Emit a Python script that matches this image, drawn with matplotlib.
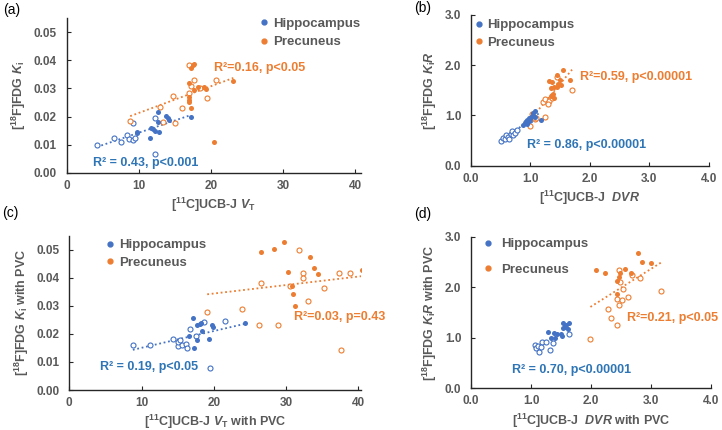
import numpy as np
import matplotlib
matplotlib.use("Agg")
import matplotlib.pyplot as plt
from matplotlib.lines import Line2D

plt.rcParams['font.family'] = ['Liberation Sans', 'DejaVu Sans']
plt.rcParams['mathtext.fontset'] = 'custom'
plt.rcParams['mathtext.rm'] = 'Liberation Sans:bold'
plt.rcParams['mathtext.bf'] = 'Liberation Sans:bold'
plt.rcParams['mathtext.it'] = 'Liberation Sans:bold:italic'

AZUL = '#4472C4'
NARANJA = '#ED7D31'
AZUL_TXT = '#2E75B6'
GRIS = '#595959'

# (a) UCB-J VT vs FDG Ki
a_hip_fx = [9.7, 9.8, 11.6, 11.7, 11.9, 12.2, 12.8, 12.6, 12.7, 13.75, 14.0, 14.2, 17.2]
a_hip_fy = [0.0142, 0.0145, 0.0125, 0.0160, 0.0156, 0.0148, 0.0146, 0.0182, 0.0217, 0.0203, 0.0194, 0.0188, 0.0198]
a_hip_ox = [4.2, 6.5, 7.5, 8.3, 8.6, 9.2, 9.4, 9.25, 12.2, 12.3]
a_hip_oy = [0.0099, 0.0122, 0.0108, 0.0134, 0.0120, 0.0117, 0.0122, 0.0176, 0.0194, 0.0065]
a_pre_fx = [17.0, 17.0, 17.0, 17.0, 17.3, 17.3, 17.5, 17.7, 17.7, 18.2, 19.1, 19.3, 20.4, 23.1]
a_pre_fy = [0.0319, 0.0268, 0.0259, 0.0253, 0.0229, 0.0374, 0.0382, 0.0386, 0.0295, 0.0306, 0.0304, 0.0297, 0.0110, 0.0328]
a_pre_ox = [8.8, 12.9, 13.3, 14.7, 15.0, 16.0, 16.9, 17.0, 17.2, 17.7, 18.5, 19.5, 20.7]
a_pre_oy = [0.0184, 0.0233, 0.0181, 0.0274, 0.0176, 0.0229, 0.0283, 0.0382, 0.0309, 0.0329, 0.0300, 0.0266, 0.0330]

# (b) UCB-J DVR vs FDG KiR
b_hip_fx = [0.87, 0.90, 0.92, 0.95, 0.97, 0.98, 1.00, 1.02, 1.05, 1.07, 1.08, 1.17, 0.94]
b_hip_fy = [0.81, 0.84, 0.85, 0.91, 0.88, 0.95, 0.93, 0.98, 1.04, 1.08, 0.96, 0.91, 0.83]
b_hip_ox = [0.50, 0.54, 0.57, 0.59, 0.63, 0.64, 0.67, 0.69, 0.71, 0.74, 0.78, 0.93, 0.99]
b_hip_oy = [0.49, 0.56, 0.53, 0.61, 0.58, 0.53, 0.64, 0.69, 0.61, 0.66, 0.72, 0.86, 0.90]
b_pre_fx = [1.32, 1.34, 1.35, 1.36, 1.38, 1.39, 1.44, 1.45, 1.46, 1.50, 1.52, 1.55, 1.67, 1.40]
b_pre_fy = [1.69, 1.38, 1.55, 1.67, 1.42, 1.57, 1.56, 1.81, 1.63, 1.70, 1.60, 1.90, 1.71, 1.35]
b_pre_ox = [1.00, 1.02, 1.07, 1.10, 1.21, 1.24, 1.25, 1.31, 1.36, 1.30, 1.70, 1.45]
b_pre_oy = [0.78, 1.02, 0.92, 0.95, 1.27, 1.33, 0.96, 1.28, 1.35, 1.22, 1.51, 1.76]

# (c) con PVC
c_hip_fx = [17.1, 17.7, 18.1, 18.3, 18.4, 16.6, 17.7, 17.3, 19.4, 19.7, 19.9, 24.4]
c_hip_fy = [0.0257, 0.0230, 0.0236, 0.0240, 0.0209, 0.0191, 0.0179, 0.0150, 0.0181, 0.0230, 0.0224, 0.0239]
c_hip_ox = [8.8, 11.2, 14.4, 15.0, 15.1, 15.3, 15.6, 16.2, 16.3, 16.7, 17.6, 18.6, 21.6, 19.5]
c_hip_oy = [0.0160, 0.0161, 0.0181, 0.0157, 0.0170, 0.0178, 0.0160, 0.0163, 0.0151, 0.0219, 0.0192, 0.0241, 0.0245, 0.0079]
c_pre_fx = [26.5, 28.4, 29.7, 30.3, 30.9, 31.0, 31.2, 33.3, 33.9, 34.5, 40.5]
c_pre_fy = [0.0490, 0.0504, 0.0527, 0.0419, 0.0370, 0.0341, 0.0299, 0.0475, 0.0435, 0.0412, 0.0426]
c_pre_ox = [19.1, 23.95, 26.6, 26.3, 28.9, 30.6, 31.8, 32.3, 32.3, 33.1, 35.3, 37.4, 38.9, 37.6]
c_pre_oy = [0.0278, 0.0290, 0.0381, 0.0233, 0.0230, 0.0370, 0.0499, 0.0417, 0.0400, 0.0317, 0.0363, 0.0418, 0.0417, 0.0141]

# (d) con PVC
d_hip_fx = [1.28, 1.33, 1.38, 1.40, 1.44, 1.51, 1.53, 1.53, 1.58, 1.64, 1.62, 1.57, 1.50]
d_hip_fy = [1.11, 0.99, 1.09, 1.00, 1.07, 1.04, 1.19, 1.29, 1.25, 1.29, 1.17, 1.21, 1.08]
d_hip_ox = [1.06, 1.08, 1.12, 1.14, 1.19, 1.25, 1.31, 1.36, 1.17, 1.64]
d_hip_oy = [0.86, 0.79, 0.84, 0.71, 0.91, 0.92, 0.76, 0.90, 0.82, 1.07]
d_pre_fx = [2.08, 2.24, 2.43, 2.46, 2.49, 2.56, 2.67, 2.79, 2.85, 3.00, 2.43]
d_pre_fy = [2.35, 2.29, 2.12, 2.20, 2.29, 2.36, 2.29, 2.68, 2.49, 2.47, 1.87]
d_pre_ox = [1.99, 2.29, 2.34, 2.43, 2.43, 2.47, 2.51, 2.54, 2.61, 2.46, 2.49, 2.69, 2.82, 3.17]
d_pre_oy = [0.97, 1.56, 1.39, 1.25, 1.76, 1.65, 1.75, 1.96, 1.81, 2.34, 2.10, 2.25, 2.19, 1.92]


def tendencia(ax, xs, ys, color):
    x = np.array(xs)
    y = np.array(ys)
    m, b = np.polyfit(x, y, 1)
    xx = np.array([x.min(), x.max()])
    ax.plot(xx, m * xx + b, ls=(0, (1, 1.5)), color=color, lw=1.3, zorder=1)


def panel(ax, hip, pre, xlim, ylim, xticks, yticks, fmt, xlabel, ylabel,
          txt_hip, txt_pre, pos_hip, pos_pre, leg_pos, leg_sep, leg_pad,
          linea_hip=True):
    for (fx, fy, ox, oy), col in ((hip, AZUL), (pre, NARANJA)):
        ax.scatter(fx, fy, s=13, color=col, zorder=3, linewidths=0)
        ax.scatter(ox, oy, s=13, facecolors='white', edgecolors=col,
                   linewidths=0.8, zorder=2)
    if linea_hip:
        tendencia(ax, hip[0] + hip[2], hip[1] + hip[3], AZUL)
    tendencia(ax, pre[0] + pre[2], pre[1] + pre[3], NARANJA)

    ax.set_xlim(*xlim)
    ax.set_ylim(*ylim)
    ax.set_xticks(xticks)
    ax.set_yticks(yticks)
    ax.set_xticklabels([fmt[0].format(v) for v in xticks])
    ax.set_yticklabels([fmt[1].format(v) for v in yticks])
    for s in ('top', 'right'):
        ax.spines[s].set_visible(False)
    for s in ('left', 'bottom'):
        ax.spines[s].set_color('#262626')
        ax.spines[s].set_linewidth(1.0)
    ax.tick_params(direction='in', length=3, width=0.8, colors='#262626',
                   labelcolor=GRIS, labelsize=8.5)
    ax.tick_params(axis='y', pad=7)
    ax.tick_params(axis='x', pad=5)
    for lab in ax.get_xticklabels() + ax.get_yticklabels():
        lab.set_fontweight('bold')
    ax.set_xlabel(xlabel, fontsize=9, color=GRIS, fontweight='bold', labelpad=3)
    ax.set_ylabel(ylabel, fontsize=9, color=GRIS, fontweight='bold', labelpad=4)

    ax.text(pos_hip[0], pos_hip[1], txt_hip, color=AZUL_TXT, fontsize=9,
            fontweight='bold', va='center', ha='left')
    ax.text(pos_pre[0], pos_pre[1], txt_pre, color=NARANJA, fontsize=9,
            fontweight='bold', va='center', ha='left')

    handles = [Line2D([], [], ls='none', marker='o', ms=3.5, color=AZUL),
               Line2D([], [], ls='none', marker='o', ms=3.5, color=NARANJA)]
    leg = ax.legend(handles, ['Hippocampus', 'Precuneus'], loc='upper left',
                    bbox_to_anchor=leg_pos, frameon=False, borderpad=0,
                    borderaxespad=0, handlelength=0.6, handletextpad=leg_pad,
                    labelspacing=leg_sep, prop={'weight': 'bold', 'size': 9.5})
    for t in leg.get_texts():
        t.set_color(GRIS)


fig = plt.figure(figsize=(7.22, 4.30), dpi=100)

ax_a = fig.add_axes([0.0924, 0.5984, 0.4076, 0.3593])
panel(ax_a, (a_hip_fx, a_hip_fy, a_hip_ox, a_hip_oy),
      (a_pre_fx, a_pre_fy, a_pre_ox, a_pre_oy),
      (0, 40.8), (0, 0.055), [0, 10, 20, 30, 40],
      [0, 0.01, 0.02, 0.03, 0.04, 0.05], ('{:.0f}', '{:.2f}'),
      r'[$^{11}$C]UCB-J $V_{\mathrm{T}}$', r'[$^{18}$F]FDG $K_{\mathrm{i}}$',
      'R² = 0.43, p<0.001', 'R²=0.16, p<0.05', (3.6, 0.0033), (20.4, 0.0372),
      (0.658, 1.003), 0.45, 0.35)

ax_b = fig.add_axes([0.6524, 0.6147, 0.3292, 0.3505])
panel(ax_b, (b_hip_fx, b_hip_fy, b_hip_ox, b_hip_oy),
      (b_pre_fx, b_pre_fy, b_pre_ox, b_pre_oy),
      (0, 4.0), (0, 3.0), [0, 1, 2, 3, 4], [0, 1, 2, 3],
      ('{:.1f}', '{:.1f}'),
      r'[$^{11}$C]UCB-J  $DVR$', r'[$^{18}$F]FDG $K_{\mathrm{i}}R$',
      'R² = 0.86, p<0.00001', 'R²=0.59, p<0.00001', (0.95, 0.41), (1.83, 1.76),
      (0.015, 0.973), 0.42, 0.35)

ax_c = fig.add_axes([0.096, 0.093, 0.404, 0.359])
panel(ax_c, (c_hip_fx, c_hip_fy, c_hip_ox, c_hip_oy),
      (c_pre_fx, c_pre_fy, c_pre_ox, c_pre_oy),
      (0, 40.4), (0, 0.055), [0, 10, 20, 30, 40],
      [0, 0.01, 0.02, 0.03, 0.04, 0.05], ('{:.0f}', '{:.2f}'),
      r'[$^{11}$C]UCB-J $V_{\mathrm{T}}$ with PVC',
      r'[$^{18}$F]FDG $K_{\mathrm{i}}$ with PVC',
      'R² = 0.19, p<0.05', 'R²=0.03, p=0.43', (4.25, 0.0081), (31.1, 0.026),
      (0.127, 0.978), 0.42, 0.35)

ax_d = fig.add_axes([0.6524, 0.097, 0.3324, 0.3526])
panel(ax_d, (d_hip_fx, d_hip_fy, d_hip_ox, d_hip_oy),
      (d_pre_fx, d_pre_fy, d_pre_ox, d_pre_oy),
      (0, 4.0), (0, 3.0), [0, 1, 2, 3, 4], [0, 1, 2, 3],
      ('{:.1f}', '{:.1f}'),
      r'[$^{11}$C]UCB-J  $DVR$ with PVC',
      r'[$^{18}$F]FDG $K_{\mathrm{i}}R$ with PVC',
      'R² = 0.70, p<0.00001', 'R²=0.21, p<0.05', (0.68, 0.36), (2.6, 1.40),
      (0.054, 0.99), 1.0, 0.7, linea_hip=False)

# etiquetas de panel
for txt, x, y in (('(a)', 12, 10), ('(b)', 423, 8), ('(c)', 10, 213), ('(d)', 423, 214)):
    fig.text(x / 722, 1 - y / 430, txt, fontsize=10, ha='center', va='center', color='black')

fig.savefig('out.png', dpi=100)
